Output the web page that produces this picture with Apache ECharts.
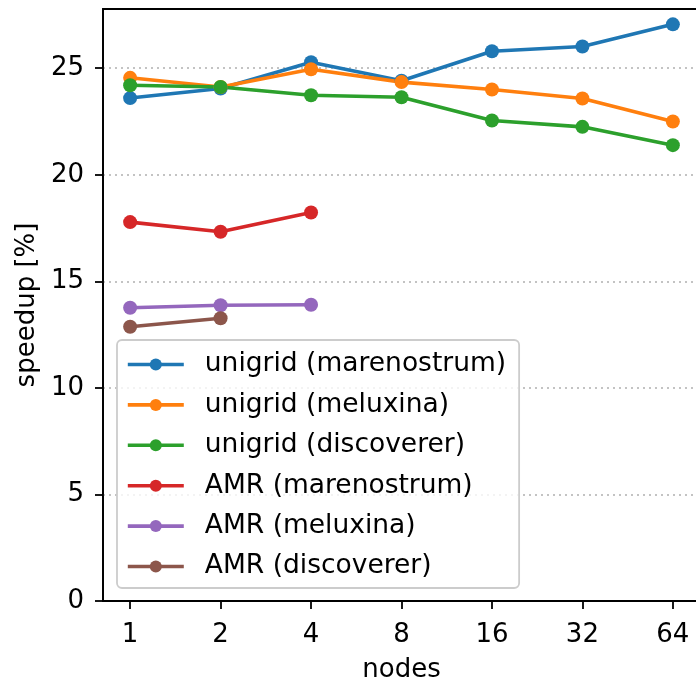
<!DOCTYPE html>
<html>
<head>
<meta charset="utf-8">
<script src="https://cdn.jsdelivr.net/npm/echarts@6/dist/echarts.min.js"></script>
<style>
  html, body { margin: 0; padding: 0; background: #fff; }
  #chart { width: 696px; height: 683px; }
</style>
</head>
<body>
<div id="chart"></div>
<script>
// Node counts (log2-spaced x axis)
const nodes = [1, 2, 4, 8, 16, 32, 64];

// Speedup in percent per configuration
const unigridMarenostrum = [23.6, 24.05, 25.28, 24.41, 25.8, 26.02, 27.06];
const unigridMeluxina    = [24.55, 24.12, 24.95, 24.35, 24.0, 23.58, 22.5];
const unigridDiscoverer  = [24.2, 24.12, 23.73, 23.64, 22.55, 22.25, 21.39];
const amrMarenostrum     = [17.78, 17.33, 18.23];
const amrMeluxina        = [13.76, 13.88, 13.9];
const amrDiscoverer      = [12.87, 13.27];

const yTicks = [0, 5, 10, 15, 20, 25];

const seriesDefs = [
  { name: 'unigrid (marenostrum)', values: unigridMarenostrum, color: '#1f77b4' },
  { name: 'unigrid (meluxina)',    values: unigridMeluxina,    color: '#ff7f0e' },
  { name: 'unigrid (discoverer)',  values: unigridDiscoverer,  color: '#2ca02c' },
  { name: 'AMR (marenostrum)',     values: amrMarenostrum,     color: '#d62728' },
  { name: 'AMR (meluxina)',        values: amrMeluxina,        color: '#9467bd' },
  { name: 'AMR (discoverer)',      values: amrDiscoverer,      color: '#8c564b' }
];

const FONT = 'DejaVu Sans';
const FS = 26;
const xIdx = nodes.map(n => Math.log2(n));

const chart = echarts.init(document.getElementById('chart'), null, { renderer: 'canvas' });

chart.setOption({
  animation: false,
  backgroundColor: '#fff',
  grid: {
    left: 103, top: 9, right: -4, bottom: 82,
    outerBoundsMode: 'none',
    containLabel: false,
    show: true, borderColor: '#000', borderWidth: 1.8, backgroundColor: 'transparent'
  },
  xAxis: {
    type: 'value',
    min: -0.3, max: 6.3,
    name: 'nodes',
    nameLocation: 'middle',
    nameGap: 56,
    nameTextStyle: { fontFamily: FONT, fontSize: FS, color: '#000' },
    axisLine: { show: true, onZero: false, lineStyle: { color: '#000', width: 1.8 } },
    axisTick: { show: true, length: 8, lineStyle: { color: '#000', width: 1.8 }, customValues: xIdx },
    axisLabel: {
      fontFamily: FONT, fontSize: FS, color: '#000', margin: 21,
      customValues: xIdx,
      formatter: v => String(nodes[Math.round(v)])
    },
    splitLine: { show: false }
  },
  yAxis: {
    type: 'value',
    min: 0, max: 27.78, interval: 5,
    name: 'speedup [%]',
    nameLocation: 'middle',
    nameGap: 62,
    nameTextStyle: { fontFamily: FONT, fontSize: FS, color: '#000' },
    axisLine: { show: true, onZero: false, lineStyle: { color: '#000', width: 1.8 } },
    axisTick: { show: true, length: 8, lineStyle: { color: '#000', width: 1.8 }, customValues: yTicks },
    axisLabel: { fontFamily: FONT, fontSize: FS, color: '#000', margin: 19, customValues: yTicks },
    splitLine: { show: true, lineStyle: { color: '#b0b0b0', width: 1.6, type: [2, 4] } }
  },
  legend: {
    left: 117, top: 340,
    orient: 'vertical',
    itemWidth: 56, itemHeight: 15,
    itemGap: 13.4,
    padding: [11, 13, 8, 9],
    backgroundColor: 'rgba(255,255,255,0.8)',
    borderColor: '#cccccc', borderWidth: 1.8, borderRadius: 5,
    lineStyle: { width: 3.6 },
    textStyle: { fontFamily: FONT, fontSize: 26.5, color: '#000', lineHeight: 26, padding: [0, 0, 0, 16] },
    data: seriesDefs.map(s => s.name)
  },
  series: seriesDefs.map(s => ({
    name: s.name,
    type: 'line',
    data: s.values.map((v, i) => [xIdx[i], v]),
    color: s.color,
    symbol: 'circle',
    symbolSize: 14,
    showSymbol: true,
    lineStyle: { width: 3.6, color: s.color },
    itemStyle: { color: s.color },
    emphasis: { disabled: true }
  }))
});
</script>
</body>
</html>
